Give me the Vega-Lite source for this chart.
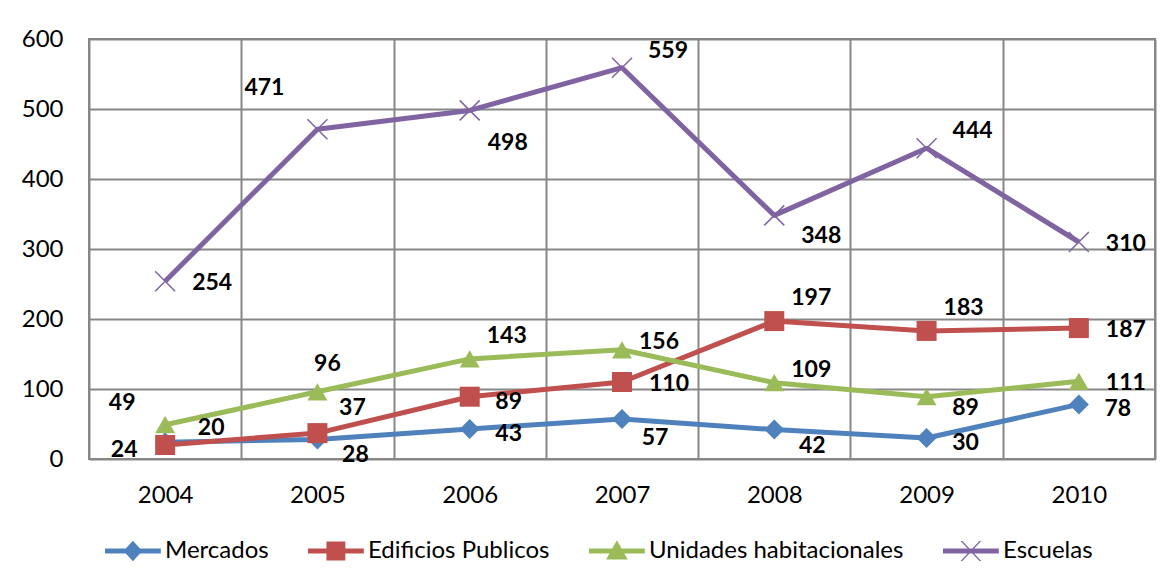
{
  "$schema": "https://vega.github.io/schema/vega-lite/v6.json",
  "width": 1066,
  "height": 420,
  "autosize": {"type": "none"},
  "padding": {"left": 89, "top": 39, "right": 17, "bottom": 126},
  "background": "white",
  "config": {
    "view": {"stroke": "#878787", "strokeWidth": 2},
    "font": "Lato",
    "axis": {"labelFont": "Lato", "labelFontSize": 24, "labelColor": "#000000", "gridColor": "#878787", "gridWidth": 2, "ticks": false, "tickSize": 0, "domain": false, "title": null}
  },
  "data": {
    "values": [
      {"year": "2004", "s": "Mercados", "v": 24},
      {"year": "2005", "s": "Mercados", "v": 28},
      {"year": "2006", "s": "Mercados", "v": 43},
      {"year": "2007", "s": "Mercados", "v": 57},
      {"year": "2008", "s": "Mercados", "v": 42},
      {"year": "2009", "s": "Mercados", "v": 30},
      {"year": "2010", "s": "Mercados", "v": 78},
      {"year": "2004", "s": "Edificios Publicos", "v": 20},
      {"year": "2005", "s": "Edificios Publicos", "v": 37},
      {"year": "2006", "s": "Edificios Publicos", "v": 89},
      {"year": "2007", "s": "Edificios Publicos", "v": 110},
      {"year": "2008", "s": "Edificios Publicos", "v": 197},
      {"year": "2009", "s": "Edificios Publicos", "v": 183},
      {"year": "2010", "s": "Edificios Publicos", "v": 187},
      {"year": "2004", "s": "Unidades habitacionales", "v": 49},
      {"year": "2005", "s": "Unidades habitacionales", "v": 96},
      {"year": "2006", "s": "Unidades habitacionales", "v": 143},
      {"year": "2007", "s": "Unidades habitacionales", "v": 156},
      {"year": "2008", "s": "Unidades habitacionales", "v": 109},
      {"year": "2009", "s": "Unidades habitacionales", "v": 89},
      {"year": "2010", "s": "Unidades habitacionales", "v": 111},
      {"year": "2004", "s": "Escuelas", "v": 254},
      {"year": "2005", "s": "Escuelas", "v": 471},
      {"year": "2006", "s": "Escuelas", "v": 498},
      {"year": "2007", "s": "Escuelas", "v": 559},
      {"year": "2008", "s": "Escuelas", "v": 348},
      {"year": "2009", "s": "Escuelas", "v": 444},
      {"year": "2010", "s": "Escuelas", "v": 310}
    ]
  },
  "encoding": {
    "x": {"field": "year", "type": "ordinal", "scale": {"paddingInner": 0, "paddingOuter": 0}, "axis": {"labelAngle": 0, "tickBand": "extent", "grid": true, "labelBaseline": "middle", "labelPadding": 36}},
    "y": {"field": "v", "type": "quantitative", "scale": {"domain": [0, 600], "nice": false}, "axis": {"values": [0, 100, 200, 300, 400, 500, 600], "grid": true, "labelPadding": 26}}
  },
  "layer": [
    {
      "mark": {"type": "line", "strokeWidth": 5, "strokeJoin": "round"},
      "encoding": {
        "color": {
          "field": "s", "type": "nominal",
          "scale": {"domain": ["Mercados", "Edificios Publicos", "Unidades habitacionales", "Escuelas"], "range": ["#4F81BD", "#C0504D", "#9BBB59", "#8064A2"]},
          "legend": {
            "title": null, "orient": "none", "direction": "horizontal", "legendX": 13, "legendY": 500,
            "labelFont": "Lato", "labelFontSize": 24, "labelColor": "#000000", "labelOffset": 39, "labelLimit": 400,
            "columnPadding": 36, "symbolSize": 324,
            "encode": {
              "symbols": {
                "update": {
                  "shape": {"signal": "datum.value === 'Mercados' ? 'M-1,-0.28H5.2V0.28H-1Z M2.1,-1.15L3.15,0L2.1,1.15L1.05,0Z' : datum.value === 'Edificios Publicos' ? 'M-1,-0.28H5.2V0.28H-1Z M1.05,-1.05H3.15V1.05H1.05Z' : datum.value === 'Unidades habitacionales' ? 'M-1,-0.28H5.2V0.28H-1Z M2.1,-1.2L3.3,0.95H0.9Z' : 'M-1,-0.28H5.2V0.28H-1Z M0.95,-1.1L1.15,-1.1L3.25,1.1L3.05,1.1Z M3.05,-1.1L3.25,-1.1L1.15,1.1L0.95,1.1Z'"},
                  "fill": {"scale": "color", "field": "value"},
                  "strokeWidth": {"value": 0}
                }
              }
            }
          }
        }
      }
    },
    {
      "transform": [{"filter": "datum.s !== 'Escuelas'"}],
      "mark": {"type": "point", "filled": true, "opacity": 1, "size": 400},
      "encoding": {
        "color": {"field": "s", "type": "nominal", "legend": null},
        "shape": {"field": "s", "type": "nominal", "scale": {"domain": ["Mercados", "Edificios Publicos", "Unidades habitacionales"], "range": ["diamond", "square", "triangle-up"]}, "legend": null}
      }
    },
    {
      "transform": [{"filter": "datum.s === 'Escuelas'"}],
      "mark": {"type": "point", "filled": false, "opacity": 1, "size": 400, "strokeWidth": 1.5, "shape": "M-1,-1L1,1M-1,1L1,-1"},
      "encoding": {"color": {"field": "s", "type": "nominal", "legend": null}}
    },
    {"transform": [{"filter": "indexof(['Escuelas|2004','Escuelas|2010','Edificios Publicos|2010','Unidades habitacionales|2010','Edificios Publicos|2007'], datum.s + '|' + datum.year) >= 0"}],
     "mark": {"type": "text", "dx": 47, "dy": 2, "font": "Lato", "fontWeight": "bold", "fontSize": 23, "color": "#000000", "baseline": "middle", "align": "center"},
     "encoding": {"text": {"field": "v"}}},
    {"transform": [{"filter": "indexof(['Edificios Publicos|2006','Mercados|2006','Mercados|2009','Mercados|2010'], datum.s + '|' + datum.year) >= 0"}],
     "mark": {"type": "text", "dx": 39, "dy": 5, "font": "Lato", "fontWeight": "bold", "fontSize": 23, "color": "#000000", "baseline": "middle", "align": "center"},
     "encoding": {"text": {"field": "v"}}},
    {"transform": [{"filter": "indexof(['Edificios Publicos|2008','Edificios Publicos|2009','Unidades habitacionales|2006'], datum.s + '|' + datum.year) >= 0"}],
     "mark": {"type": "text", "dx": 37, "dy": -23, "font": "Lato", "fontWeight": "bold", "fontSize": 23, "color": "#000000", "baseline": "middle", "align": "center"},
     "encoding": {"text": {"field": "v"}}},
    {"transform": [{"filter": "datum.s + '|' + datum.year === 'Edificios Publicos|2005'"}],
     "mark": {"type": "text", "dx": 35, "dy": -25, "font": "Lato", "fontWeight": "bold", "fontSize": 23, "color": "#000000", "baseline": "middle", "align": "center"},
     "encoding": {"text": {"field": "v"}}},
    {"transform": [{"filter": "datum.s + '|' + datum.year === 'Unidades habitacionales|2007'"}],
     "mark": {"type": "text", "dx": 37, "dy": -8, "font": "Lato", "fontWeight": "bold", "fontSize": 23, "color": "#000000", "baseline": "middle", "align": "center"},
     "encoding": {"text": {"field": "v"}}},
    {"transform": [{"filter": "datum.s + '|' + datum.year === 'Unidades habitacionales|2008'"}],
     "mark": {"type": "text", "dx": 37, "dy": -13, "font": "Lato", "fontWeight": "bold", "fontSize": 23, "color": "#000000", "baseline": "middle", "align": "center"},
     "encoding": {"text": {"field": "v"}}},
    {"transform": [{"filter": "datum.s + '|' + datum.year === 'Unidades habitacionales|2009'"}],
     "mark": {"type": "text", "dx": 39, "dy": 11, "font": "Lato", "fontWeight": "bold", "fontSize": 23, "color": "#000000", "baseline": "middle", "align": "center"},
     "encoding": {"text": {"field": "v"}}},
    {"transform": [{"filter": "datum.s + '|' + datum.year === 'Escuelas|2008'"}],
     "mark": {"type": "text", "dx": 47, "dy": 21, "font": "Lato", "fontWeight": "bold", "fontSize": 23, "color": "#000000", "baseline": "middle", "align": "center"},
     "encoding": {"text": {"field": "v"}}},
    {"transform": [{"filter": "datum.s + '|' + datum.year === 'Escuelas|2006'"}],
     "mark": {"type": "text", "dx": 38, "dy": 33, "font": "Lato", "fontWeight": "bold", "fontSize": 23, "color": "#000000", "baseline": "middle", "align": "center"},
     "encoding": {"text": {"field": "v"}}},
    {"transform": [{"filter": "indexof(['Escuelas|2007','Escuelas|2009','Edificios Publicos|2004'], datum.s + '|' + datum.year) >= 0"}],
     "mark": {"type": "text", "dx": 46, "dy": -17, "font": "Lato", "fontWeight": "bold", "fontSize": 23, "color": "#000000", "baseline": "middle", "align": "center"},
     "encoding": {"text": {"field": "v"}}},
    {"transform": [{"filter": "datum.s + '|' + datum.year === 'Escuelas|2005'"}],
     "mark": {"type": "text", "dx": -53, "dy": -41, "font": "Lato", "fontWeight": "bold", "fontSize": 23, "color": "#000000", "baseline": "middle", "align": "center"},
     "encoding": {"text": {"field": "v"}}},
    {"transform": [{"filter": "datum.s + '|' + datum.year === 'Unidades habitacionales|2004'"}],
     "mark": {"type": "text", "dx": -43, "dy": -22, "font": "Lato", "fontWeight": "bold", "fontSize": 23, "color": "#000000", "baseline": "middle", "align": "center"},
     "encoding": {"text": {"field": "v"}}},
    {"transform": [{"filter": "datum.s + '|' + datum.year === 'Mercados|2004'"}],
     "mark": {"type": "text", "dx": -41, "dy": 8, "font": "Lato", "fontWeight": "bold", "fontSize": 23, "color": "#000000", "baseline": "middle", "align": "center"},
     "encoding": {"text": {"field": "v"}}},
    {"transform": [{"filter": "indexof(['Mercados|2005','Mercados|2008'], datum.s + '|' + datum.year) >= 0"}],
     "mark": {"type": "text", "dx": 38, "dy": 16, "font": "Lato", "fontWeight": "bold", "fontSize": 23, "color": "#000000", "baseline": "middle", "align": "center"},
     "encoding": {"text": {"field": "v"}}},
    {"transform": [{"filter": "datum.s + '|' + datum.year === 'Mercados|2007'"}],
     "mark": {"type": "text", "dx": 33, "dy": 19, "font": "Lato", "fontWeight": "bold", "fontSize": 23, "color": "#000000", "baseline": "middle", "align": "center"},
     "encoding": {"text": {"field": "v"}}},
    {"transform": [{"filter": "datum.s + '|' + datum.year === 'Unidades habitacionales|2005'"}],
     "mark": {"type": "text", "dx": 10, "dy": -28, "font": "Lato", "fontWeight": "bold", "fontSize": 23, "color": "#000000", "baseline": "middle", "align": "center"},
     "encoding": {"text": {"field": "v"}}}
  ]
}
